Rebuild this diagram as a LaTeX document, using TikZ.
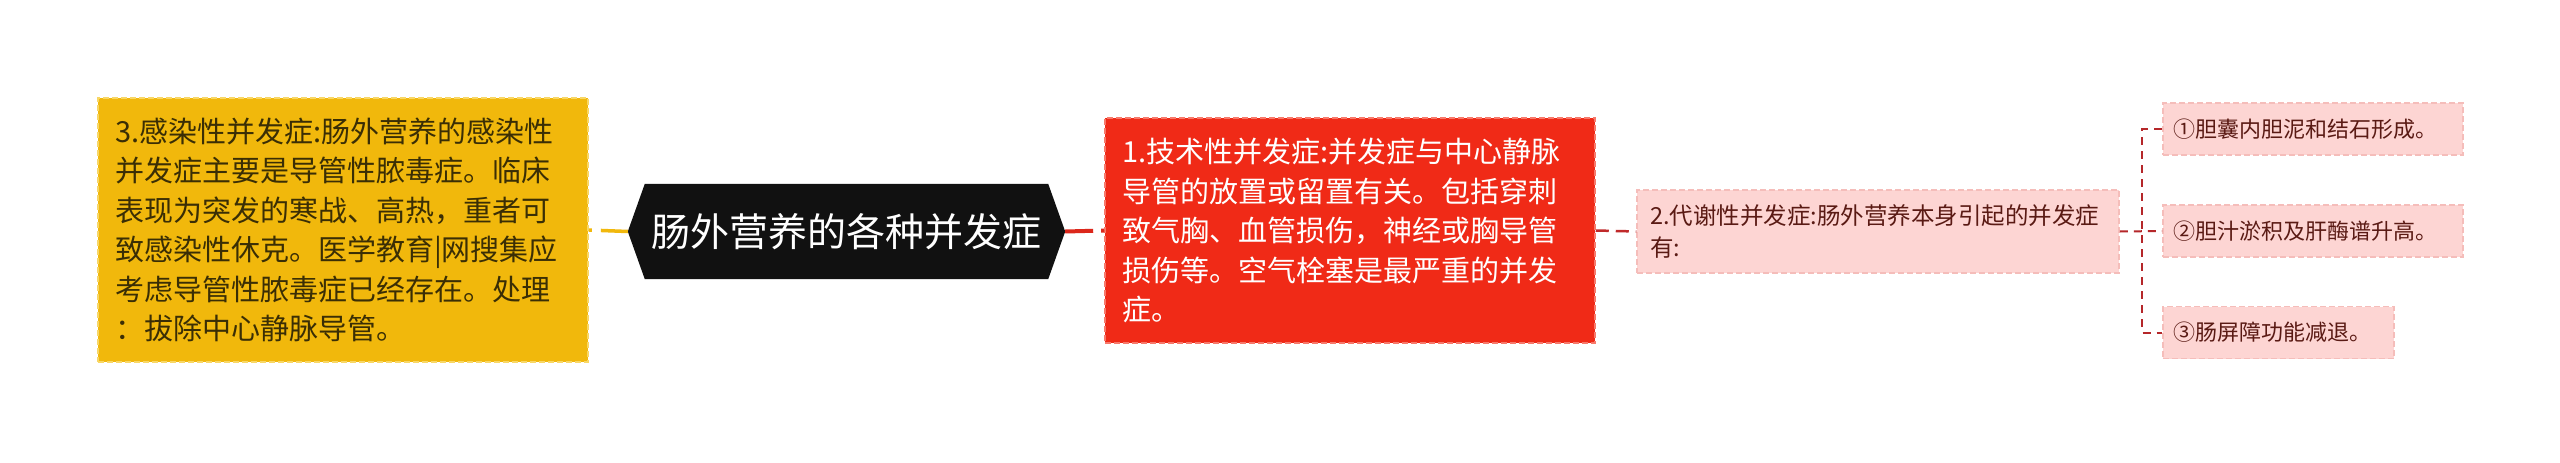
\documentclass[tikz,border=0pt]{standalone}
\usepackage{fontspec}
\setmainfont{Noto Sans CJK SC}
\usetikzlibrary{backgrounds}
\definecolor{yfill}{HTML}{F1B80C}
\definecolor{yedge}{HTML}{F8D766}
\definecolor{rfill}{HTML}{F02A17}
\definecolor{redge}{HTML}{F7796B}
\definecolor{pfill}{HTML}{FDD5D3}
\definecolor{pedge}{HTML}{F5BDBA}
\definecolor{ytext}{HTML}{3A2E05}
\definecolor{ptext}{HTML}{5A1A14}
\definecolor{hexfill}{HTML}{111111}
\definecolor{rline}{HTML}{DC271B}
\definecolor{dline}{HTML}{C0292A}
\definecolor{lline}{HTML}{B5272A}
\tikzset{
  boxbase/.style={rectangle, align=left, inner ysep=0pt, dash pattern=on 6pt off 3pt, line width=1.5pt},
  ybox/.style={boxbase, fill=yfill, draw=yedge, text=ytext, inner xsep=17pt, text width=456pt, minimum height=264pt, font=\fontsize{29}{39.5}\selectfont},
  rbox/.style={boxbase, fill=rfill, draw=redge, text=white, inner xsep=17pt, text width=456pt, minimum height=225pt, font=\fontsize{29}{39.5}\selectfont},
  pbox/.style={boxbase, fill=pfill, draw=pedge, text=ptext, inner xsep=13pt, text width=456pt, minimum height=83pt, font=\fontsize{23.5}{32}\selectfont},
  leafbox/.style={boxbase, fill=pfill, draw=pedge, text=ptext, inner xsep=11pt, minimum height=52pt, anchor=west, font=\fontsize{22}{30}\selectfont},
  hexnode/.style={rectangle, inner sep=0pt, minimum width=403pt, minimum height=95pt, text=white, font=\fontsize{39}{46}\selectfont},
  yconn/.style={draw=yfill, line width=3.5pt, dash pattern=on 27pt off 9pt},
  rconn/.style={draw=rline, line width=4pt, dash pattern=on 28pt off 8pt},
  dconn/.style={draw=dline, line width=2.5pt, dash pattern=on 13pt off 7pt},
  lconn/.style={draw=lline, line width=2pt, dash pattern=on 8pt off 6pt},
}
\begin{document}
\begin{tikzpicture}[x=1pt,y=-1pt]
\useasboundingbox (0,0) rectangle (2560,463);

\node[ybox] (ybox) at (343,230) {3.感染性并发症:肠外营养的感染性\\并发症主要是导管性脓毒症。临床\\表现为突发的寒战、高热，重者可\\致感染性休克。医学教育|网搜集应\\考虑导管性脓毒症已经存在。处理\\：拔除中心静脉导管。};

\node[hexnode] (hex) at (846.5,231.5) {肠外营养的各种并发症};
\coordinate (hexL) at ([xshift=-17pt]hex.west);
\coordinate (hexR) at ([xshift=17pt]hex.east);
\begin{scope}[on background layer]
\fill[white] (0,0) rectangle (2560,463);
\fill[hexfill] (hex.north west) -- (hex.north east) -- (hexR) -- (hex.south east) -- (hex.south west) -- (hexL) -- cycle;
\end{scope}

\node[rbox] (rbox) at (1350,230.5) {1.技术性并发症:并发症与中心静脉\\导管的放置或留置有关。包括穿刺\\致气胸、血管损伤，神经或胸导管\\损伤等。空气栓塞是最严重的并发\\症。};

\node[pbox] (p2) at (1878,231.5) {2.代谢性并发症:肠外营养本身引起的并发症\\有:};

\node[leafbox, text width=278pt] (leaf1) at (2162,129) {①胆囊内胆泥和结石形成。};
\node[leafbox, text width=278pt] (leaf2) at (2162,231) {②胆汁淤积及肝酶谱升高。};
\node[leafbox, text width=209pt] (leaf3) at (2162,332.5) {③肠屏障功能减退。};

\draw[yconn] (hexL) -- (ybox.east);
\draw[rconn] (hexR) -- (rbox.west);
\draw[dconn] (rbox.east) -- (p2.west);
\draw[lconn] (p2.east) -- (leaf2.west);
\draw[lconn] (leaf1.west) -- ++(-20,0) |- (leaf3.west);
\end{tikzpicture}
\end{document}
